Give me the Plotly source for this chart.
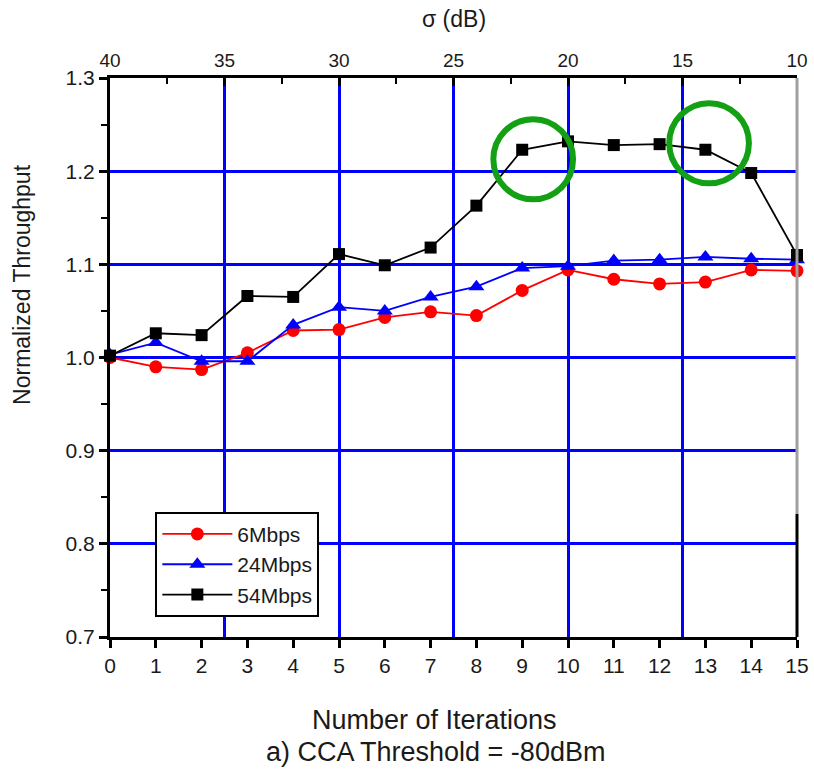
import plotly.graph_objects as go

iterations = list(range(16))
sigma_ticks = [40, 35, 30, 25, 20, 15, 10]
y_ticks = [0.7, 0.8, 0.9, 1.0, 1.1, 1.2, 1.3]

tp_6 = [1.000, 0.990, 0.987, 1.005, 1.029, 1.030, 1.043, 1.049, 1.045, 1.072,
        1.094, 1.084, 1.079, 1.081, 1.094, 1.093]
tp_24 = [1.003, 1.016, 0.996, 0.996, 1.035, 1.054, 1.050, 1.065, 1.076, 1.096,
         1.098, 1.104, 1.105, 1.108, 1.106, 1.105]
tp_54 = [1.002, 1.026, 1.024, 1.066, 1.065, 1.111, 1.099, 1.118, 1.163, 1.223,
         1.232, 1.228, 1.229, 1.223, 1.198, 1.110]

series = [
    ("6Mbps", tp_6, "#ff0000", "circle", 13),
    ("24Mbps", tp_24, "#0000ff", "triangle-up", 14),
    ("54Mbps", tp_54, "#000000", "square", 12),
]

# highlighted points (iteration, throughput) for the green circles
highlights = [(9.24, 1.2128), (13.08, 1.230)]

fig = go.Figure()
for name, vals, col, sym, sz in series:
    fig.add_trace(go.Scatter(
        x=iterations, y=vals, name=name, mode="lines+markers",
        line=dict(color=col, width=1.8),
        marker=dict(symbol=sym, size=sz, color=col),
        cliponaxis=False,
    ))

# invisible trace to activate top axis
fig.add_trace(go.Scatter(x=[sigma_ticks[0], sigma_ticks[-1]], y=[1.0, 1.0], xaxis="x2",
                         mode="markers", marker=dict(opacity=0), showlegend=False,
                         hoverinfo="skip"))

font_fam = "Liberation Sans, Arial, sans-serif"
txt_col = "#1a1a1a"
tick_font = dict(family=font_fam, size=21, color=txt_col)

rx, ry = 0.87, 0.043
shapes = []
for cx, cy in highlights:
    shapes.append(dict(type="circle", xref="x", yref="y",
                       x0=cx - rx, x1=cx + rx, y0=cy - ry, y1=cy + ry,
                       line=dict(color="#14a014", width=6)))
# right spine: gray upper, black lower
shapes.append(dict(type="line", xref="paper", yref="paper", x0=1, x1=1, y0=0.22, y1=1,
                   line=dict(color="#a0a0a0", width=3)))
shapes.append(dict(type="line", xref="paper", yref="paper", x0=1, x1=1, y0=0, y1=0.22,
                   line=dict(color="#000000", width=3)))

fig.update_layout(
    width=814, height=774,
    margin=dict(l=110, r=17, t=78, b=137),
    paper_bgcolor="white", plot_bgcolor="white",
    showlegend=True,
    legend=dict(x=0.066, y=0.224, xanchor="left", yanchor="top",
                bordercolor="black", borderwidth=2, bgcolor="white",
                font=dict(family=font_fam, size=21, color=txt_col),
                itemwidth=70, entrywidth=170, tracegroupgap=0),
    xaxis=dict(range=[0, 15], tickvals=iterations, ticks="outside", ticklen=8,
               tickwidth=3, tickcolor="black", showgrid=False, zeroline=False,
               showline=True, linecolor="black", linewidth=3, automargin=False,
               tickfont=tick_font),
    xaxis2=dict(range=[40, 10], overlaying="x", side="top", anchor="y",
                tickvals=sigma_ticks, ticks="inside", ticklen=8, tickwidth=3,
                tickcolor="black", automargin=False,
                minor=dict(dtick=2.5, tick0=37.5, ticks="inside", ticklen=6,
                           tickwidth=2, tickcolor="black", showgrid=False),
                showgrid=True, gridcolor="#0000ff", gridwidth=2.5,
                zeroline=False, showline=True, linecolor="black", linewidth=3,
                tickfont=dict(family=font_fam, size=19, color=txt_col)),
    yaxis=dict(range=[0.7, 1.3], tickvals=y_ticks, ticktext=[f"{v:.1f}" for v in y_ticks],
               ticks="outside", ticklen=8, tickwidth=3, tickcolor="black",
               minor=dict(dtick=0.1, tick0=0.75, ticks="outside", ticklen=6,
                          tickwidth=2, tickcolor="black", showgrid=False),
               showgrid=True, gridcolor="#0000ff", gridwidth=2.5, zeroline=False,
               showline=True, linecolor="black", linewidth=3, automargin=False,
               tickfont=tick_font),
    shapes=shapes,
    annotations=[
        dict(text="Normalized Throughput", xref="paper", yref="paper",
             x=-0.128, y=0.63, textangle=-90, showarrow=False,
             xanchor="center", yanchor="middle",
             font=dict(family=font_fam, size=23, color=txt_col)),
        dict(text="Number of Iterations", xref="paper", yref="paper",
             x=0.472, y=-0.148, showarrow=False, xanchor="center", yanchor="middle",
             font=dict(family=font_fam, size=27, color=txt_col)),
        dict(text="a) CCA Threshold = -80dBm", xref="paper", yref="paper",
             x=0.474, y=-0.206, showarrow=False, xanchor="center", yanchor="middle",
             font=dict(family=font_fam, size=27, color=txt_col)),
        dict(text="σ (dB)", xref="paper", yref="paper",
             x=0.50, y=1.105, showarrow=False, xanchor="center", yanchor="middle",
             font=dict(family=font_fam, size=23, color=txt_col)),
    ],
)

fig.write_html("out.html", config={"displayModeBar": False},
               post_script="document.body.style.margin='0';document.body.style.overflow='hidden';")
